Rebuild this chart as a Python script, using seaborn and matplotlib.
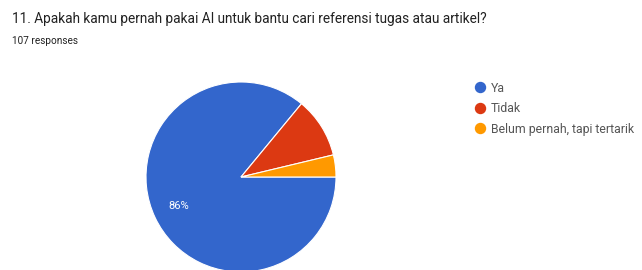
import matplotlib
matplotlib.use("Agg")
import matplotlib.pyplot as plt
from matplotlib.lines import Line2D
import seaborn as sns

title = "11. Apakah kamu pernah pakai AI untuk bantu cari referensi tugas atau artikel?"
n_responses = 107
labels = ["Ya", "Tidak", "Belum pernah, tapi tertarik"]
counts = [92, 11, 4]
colors = ["#3366cc", "#dc3912", "#ff9900"]

sns.set_theme(style="white")
plt.rcParams["font.family"] = ["Roboto", "DejaVu Sans"]

fig = plt.figure(figsize=(6.42, 2.70), dpi=100)
fig.patch.set_facecolor("white")

fig.text(12 / 642, 1 - 18.5 / 270, title, fontsize=9.8, color="#212121", va="center", ha="left")
fig.text(12 / 642, 1 - 41 / 270, f"{n_responses} responses", fontsize=7.2, color="#212121",
         va="center", ha="left")

# pie centred at (241, 177) px, radius 95 px
ax = fig.add_axes([146 / 642, -2 / 270, 190 / 642, 190 / 270])


def pct_label(p):
    # Forms only prints the big slice
    return f"{p:.0f}%" if p >= 15 else ""


wedges, _, autotexts = ax.pie(
    counts,
    colors=colors,
    startangle=0,
    counterclock=False,
    autopct=pct_label,
    pctdistance=0.72,
    wedgeprops=dict(edgecolor="white", linewidth=0.8),
    textprops=dict(color="white", fontsize=8),
)
ax.set_xlim(-1.0, 1.0)
ax.set_ylim(-1.0, 1.0)
ax.set_aspect("equal")
ax.axis("off")

# legend text shrunk a touch so the last label fits inside the figure
handles = [Line2D([0], [0], marker="o", linestyle="", markersize=7.2,
                  markerfacecolor=c, markeredgecolor=c) for c in colors]
fig.legend(handles, labels, loc="upper left", bbox_to_anchor=(474.5 / 642, 1 - 81.5 / 270),
           frameon=False, fontsize=8.8, labelcolor="#555555", handletextpad=0.5,
           labelspacing=0.62, handlelength=0.85, borderaxespad=0, borderpad=0)

fig.savefig("out.png", dpi=100, facecolor="white")
